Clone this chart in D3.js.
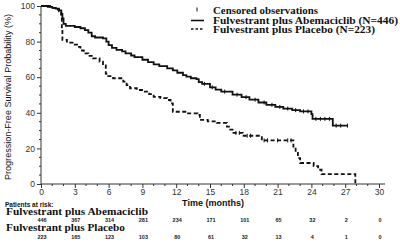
<!DOCTYPE html>
<html>
<head>
<meta charset="utf-8">
<script src="https://cdn.jsdelivr.net/npm/d3@7"></script>
<style>
  body { margin: 0; background: #fff; }
  text { font-family: "Liberation Sans", Arial, sans-serif; }
  .serif { font-family: "Liberation Serif", "Times New Roman", serif; font-weight: bold; }
</style>
</head>
<body>
<div id="chart"></div>
<script>
// step data: [month, survival %]
var abemaSteps = [
  [0,100],[0.6,99.5],[1.0,99],[1.3,98.5],[1.6,97.5],[1.8,95.5],[1.9,93],[2.0,90],[2.2,88.8],
  [3.0,88.2],[3.5,87.5],[3.9,86.5],[4.2,85],[4.5,83],[4.8,82.3],[5.5,81.8],[5.8,80],[6.0,78],
  [6.3,76.5],[6.7,75.3],[7.2,74.5],[7.5,73.4],[8.0,72.2],[8.3,71.3],[9.0,69.8],[9.5,68.5],
  [10.0,67.2],[10.5,66.2],[11.2,65],[11.7,63.8],[12.1,62.5],[12.6,61.2],[12.9,60.3],[13.3,59.4],
  [13.8,58.9],[14.0,57.2],[14.3,56.3],[15.0,54.3],[15.5,53],[16.0,51.9],[17.0,50.2],[17.8,48.8],
  [18.5,47.4],[19.3,45.8],[20.0,44.5],[20.8,43.3],[21.5,42.4],[22.3,41.5],[23.0,40.8],[24.0,39.3],
  [24.1,36.6],[25.9,32.8],[27.2,32.8]
];
var placeboSteps = [
  [0,100],[0.8,99],[1.3,98],[1.6,97],[1.8,95],[1.85,87],[1.9,81],[2.3,79.4],[2.8,78.3],[3.2,77],
  [3.5,75],[3.8,73.4],[4.2,72],[4.6,70.6],[5.2,68.7],[5.5,66.6],[5.75,62],[5.8,60.6],[6.4,59.4],
  [7.3,57.5],[7.6,55.5],[7.9,53.8],[8.5,52.8],[9.1,51.9],[9.6,50.5],[10.0,49],[10.6,48.2],
  [11.2,47.2],[11.5,45.3],[11.7,40.6],[12.9,39.7],[13.9,38.8],[14.1,36],[14.8,35.2],[15.6,34.3],
  [16.5,32.2],[16.8,30.5],[17.0,28.7],[17.9,27.1],[19.6,24.5],[22.4,21],[22.6,17.5],[22.8,14.5],
  [23.0,11.8],[24.2,10],[24.6,8],[24.9,5.5],[27.9,5.5],[27.9,0]
];
// censored times
var abemaCensor = [14.5,15.2,16.3,17.4,18.2,19.0,19.8,20.5,21.2,21.9,22.6,23.3,23.7,24.4,24.8,25.2,25.6,26.2,26.6,27.2];
var placeboCensor = [17.3,17.6,18.3,18.6,19.8,20.1,21.0,21.9,22.2];

var riskMonths = [0,3,6,9,12,15,18,21,24,27,30];
var abemaRisk = [446,367,314,281,234,171,101,65,32,2,0];
var placeboRisk = [223,165,123,103,80,61,32,13,4,1,0];

var legendLabels = ["Censored observations", "Fulvestrant plus Abemaciclib (N=446)", "Fulvestrant plus Placebo (N=223)"];

var W = 400, H = 244;
var svg = d3.select("#chart").append("svg").attr("width", W).attr("height", H);

var x = d3.scaleLinear().domain([0, 30]).range([41, 379]);
var y = d3.scaleLinear().domain([0, 100]).range([184, 6]);

var axisColor = "#333";

// axes
var xAxis = svg.append("g").attr("transform", "translate(0," + y(0) + ")");
xAxis.call(d3.axisBottom(x).tickValues(d3.range(0, 31, 3)).tickSize(4).tickPadding(1).tickFormat(d3.format("d")));
xAxis.append("g").selectAll("line").data(d3.range(0, 31, 1).filter(function(d){ return d % 3 !== 0; }))
  .join("line").attr("x1", x).attr("x2", x).attr("y1", 0).attr("y2", 2).attr("stroke", axisColor);
xAxis.select(".domain").attr("d", "M" + x(0) + ",0H" + (x(30) + 6));

var yAxis = svg.append("g").attr("transform", "translate(" + x(0) + ",0)");
yAxis.call(d3.axisLeft(y).tickValues(d3.range(0, 101, 20)).tickSize(4).tickPadding(2));
yAxis.append("g").selectAll("line").data(d3.range(5, 100, 5).filter(function(d){ return d % 20 !== 0; }))
  .join("line").attr("y1", y).attr("y2", y).attr("x1", 0).attr("x2", -2).attr("stroke", axisColor);
yAxis.select(".domain").attr("d", "M0," + y(100) + "V" + y(0));

[xAxis, yAxis].forEach(function(g) {
  g.selectAll("path, line").attr("stroke", axisColor);
  g.selectAll("text").attr("font-size", 8.5).attr("fill", "#333").attr("font-family", "Liberation Sans, Arial, sans-serif");
});

// curves
var line = d3.line().x(function(d){ return x(d[0]); }).y(function(d){ return y(d[1]); }).curve(d3.curveStepAfter);

svg.append("path").datum(abemaSteps).attr("d", line)
  .attr("fill", "none").attr("stroke", "#111").attr("stroke-width", 1.8);
svg.append("path").datum(placeboSteps).attr("d", line)
  .attr("fill", "none").attr("stroke", "#111").attr("stroke-width", 1.8).attr("stroke-dasharray", "4,2.5");

function survAt(steps, t) {
  var v = steps[0][1];
  steps.forEach(function(s){ if (s[0] <= t) v = s[1]; });
  return v;
}
function drawCensor(times, steps) {
  svg.append("g").selectAll("line").data(times).join("line")
    .attr("x1", function(d){ return x(d); }).attr("x2", function(d){ return x(d); })
    .attr("y1", function(d){ return y(survAt(steps, d)) - 2; })
    .attr("y2", function(d){ return y(survAt(steps, d)) + 2; })
    .attr("stroke", "#111").attr("stroke-width", 1);
}
drawCensor(abemaCensor, abemaSteps);
drawCensor(placeboCensor, placeboSteps);

// axis titles
svg.append("text").attr("transform", "translate(11,97) rotate(-90)")
  .attr("text-anchor", "middle").attr("font-size", 8.5).attr("fill", "#111")
  .attr("textLength", 166).attr("lengthAdjust", "spacingAndGlyphs")
  .text("Progression-Free Survival Probability (%)");
svg.append("text").attr("x", 213).attr("y", 206).attr("text-anchor", "middle")
  .attr("font-size", 9).attr("font-weight", "bold").attr("fill", "#111")
  .text("Time (months)");

// legend
var lgX = 213;
var lgY = [13.5, 24, 32.5];
svg.append("line").attr("x1", 197).attr("x2", 197).attr("y1", lgY[0] - 6).attr("y2", lgY[0] - 2)
  .attr("stroke", "#111").attr("stroke-width", 1);
svg.append("line").attr("x1", 191).attr("x2", 204).attr("y1", lgY[1] - 3.5).attr("y2", lgY[1] - 3.5)
  .attr("stroke", "#111").attr("stroke-width", 1.6);
svg.append("line").attr("x1", 191).attr("x2", 204).attr("y1", lgY[2] - 3.5).attr("y2", lgY[2] - 3.5)
  .attr("stroke", "#111").attr("stroke-width", 1.6).attr("stroke-dasharray", "2.5,2");
var lgW = [105, 185, 162];
legendLabels.forEach(function(t, i) {
  svg.append("text").attr("class", "serif").attr("x", lgX).attr("y", lgY[i])
    .attr("font-size", 9.5).attr("fill", "#111")
    .attr("textLength", lgW[i]).attr("lengthAdjust", "spacingAndGlyphs").text(t);
});

// patients at risk table
svg.append("text").attr("x", 5).attr("y", 207).attr("font-size", 6.5).attr("font-weight", "bold")
  .attr("fill", "#111").text("Patients at risk:");
svg.append("text").attr("class", "serif").attr("x", 6).attr("y", 215).attr("font-size", 9.5)
  .attr("fill", "#111").attr("textLength", 142).attr("lengthAdjust", "spacingAndGlyphs")
  .text("Fulvestrant plus Abemaciclib");
svg.append("text").attr("class", "serif").attr("x", 6).attr("y", 231).attr("font-size", 9.5)
  .attr("fill", "#111").attr("textLength", 119).attr("lengthAdjust", "spacingAndGlyphs")
  .text("Fulvestrant plus Placebo");

function riskRow(vals, yy) {
  svg.append("g").selectAll("text").data(vals).join("text")
    .attr("x", function(d, i){ return x(riskMonths[i]) + 1; }).attr("y", yy)
    .attr("text-anchor", "middle").attr("font-size", 5.5).attr("font-weight", "bold").attr("fill", "#222")
    .text(function(d){ return d; });
}
riskRow(abemaRisk, 222);
riskRow(placeboRisk, 238.5);
</script>
</body>
</html>
